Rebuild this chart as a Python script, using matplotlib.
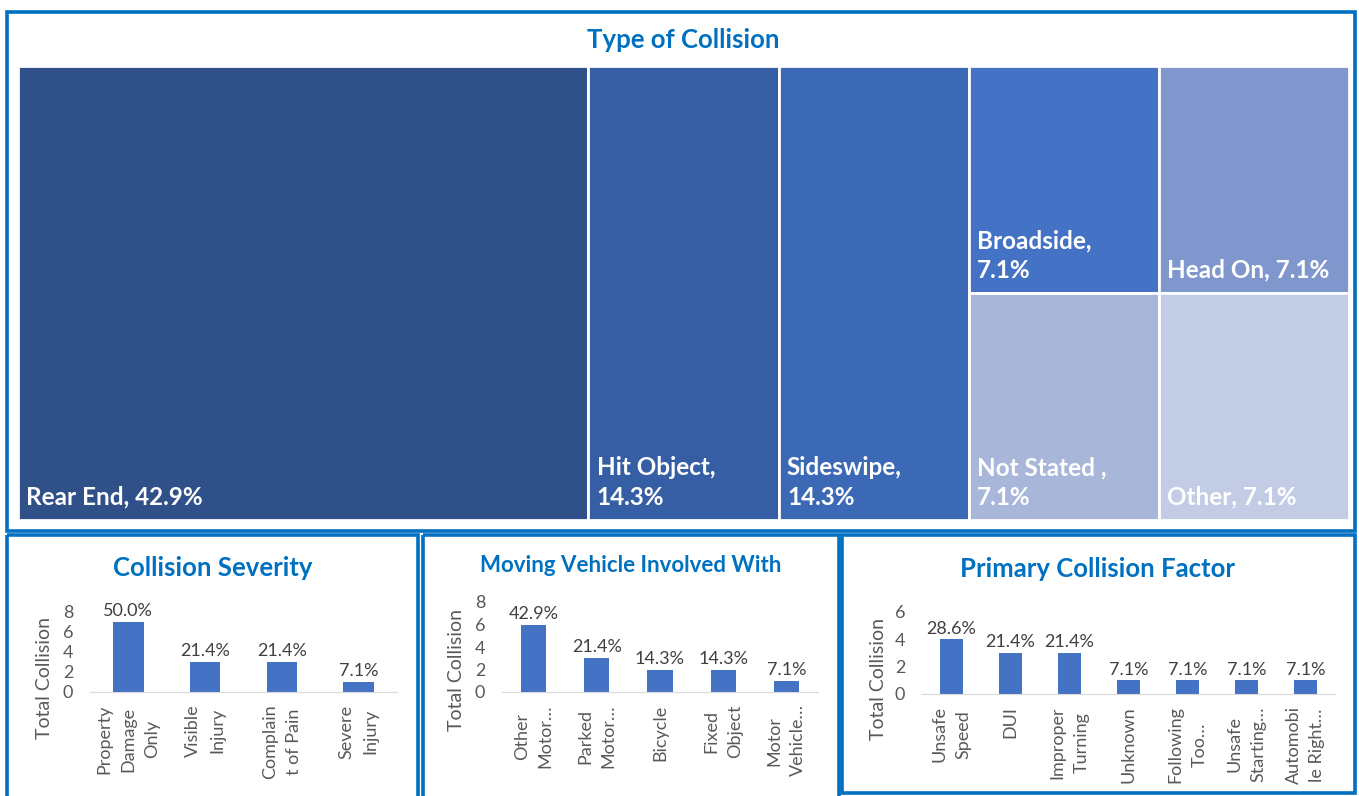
import matplotlib.pyplot as plt
from matplotlib.patches import Rectangle

W, H = 1359, 796

# Type of Collision (treemap)
collision_types = ["Rear End", "Hit Object", "Sideswipe", "Broadside", "Head On", "Not Stated ", "Other"]
collision_counts = [6, 2, 2, 1, 1, 1, 1]
collision_colors = ["#2F5089", "#365EA4", "#3C69B5", "#4472C4", "#8097CE", "#A8B6DA", "#C2CCE5"]
treemap_columns = [[0], [1], [2], [3, 5], [4, 6]]
wrap_label = [False, True, True, True, False, True, False]

# Collision Severity
severity_labels = ["Property\nDamage\nOnly", "Visible\nInjury", "Complain\nt of Pain", "Severe\nInjury"]
severity_counts = [7, 3, 3, 1]

# Moving Vehicle Involved With
vehicle_labels = ["Other\nMotor…", "Parked\nMotor…", "Bicycle", "Fixed\nObject", "Motor\nVehicle…"]
vehicle_counts = [6, 3, 2, 2, 1]

# Primary Collision Factor
factor_labels = ["Unsafe\nSpeed", "DUI", "Improper\nTurning", "Unknown", "Following\nToo…",
                 "Unsafe\nStarting…", "Automobi\nle Right…"]
factor_counts = [4, 3, 3, 1, 1, 1, 1]

plt.rcParams['font.family'] = ['Lato', 'DejaVu Sans']
BLUE = "#0070C0"
BAR = "#4472C4"
SMALL = 13

fig = plt.figure(figsize=(W / 100, H / 100), dpi=100)
fig.patch.set_facecolor("white")


def px_axes(x0, y0, x1, y1, **kw):
    return fig.add_axes([x0 / W, 1 - y1 / H, (x1 - x0) / W, (y1 - y0) / H], **kw)


# background layer for panel frames
bg = px_axes(0, 0, W, H)
bg.set_xlim(0, W)
bg.set_ylim(H, 0)
bg.axis('off')
for (x0, y0, x1, y1) in [(7, 12, 1355, 531), (7, 535, 418, 800), (423, 535, 839, 800), (842, 535, 1355, 793)]:
    bg.add_patch(Rectangle((x0, y0), x1 - x0, y1 - y0, fill=False, edgecolor=BLUE, lw=2.6))

# treemap
bg.text(683, 40, "Type of Collision", ha='center', va='center', fontsize=18.5,
        fontweight='bold', color=BLUE)
tm = px_axes(18, 66, 1349, 520)
total = sum(collision_counts)
tm.set_xlim(0, total)
tm.set_ylim(1, 0)
tm.axis('off')
x = 0
for col in treemap_columns:
    colsum = sum(collision_counts[i] for i in col)
    y = 0
    for i in col:
        h = collision_counts[i] / colsum
        tm.add_patch(Rectangle((x, y), colsum, h, facecolor=collision_colors[i],
                               edgecolor="white", lw=2))
        pct = collision_counts[i] / total * 100
        sep = "\n" if wrap_label[i] else " "
        tm.annotate(f"{collision_types[i]},{sep}{pct:.1f}%", xy=(x, y + h), xytext=(6, 8),
                    textcoords='offset points', ha='left', va='bottom', color="white",
                    fontsize=17.5, fontweight='bold', linespacing=1.35)
        y += h
    x += colsum


def bar_panel(box, title, title_xy, title_size, labels, counts, ymax, ylab_x, ylab_y):
    ax = px_axes(*box)
    n = len(counts)
    bars = ax.bar(range(n), counts, width=0.4, color=BAR, zorder=2)
    tot = sum(counts)
    ax.bar_label(bars, labels=[f"{c / tot * 100:.1f}%" for c in counts], padding=2,
                 fontsize=SMALL, color="#404040")
    ax.set_xlim(-0.5, n - 0.5)
    ax.set_ylim(0, ymax)
    ax.set_yticks(range(0, ymax + 1, 2))
    ax.set_xticks(range(n))
    ax.set_xticklabels(labels, rotation=90, fontsize=SMALL, color="#595959", linespacing=1.6)
    ax.tick_params(axis='both', length=0, labelsize=SMALL, labelcolor="#595959")
    ax.tick_params(axis='x', pad=9)
    ax.tick_params(axis='y', pad=12)
    for s in ['top', 'right', 'left']:
        ax.spines[s].set_visible(False)
    ax.spines['bottom'].set_color("#D9D9D9")
    ax.set_facecolor("none")
    bg.text(title_xy[0], title_xy[1], title, ha='center', va='center', fontsize=title_size,
            fontweight='bold', color=BLUE)
    bg.text(ylab_x, ylab_y, "Total Collision", rotation=90, ha='center', va='center',
            fontsize=14, color="#595959")
    return ax


bar_panel((90, 612, 397, 692), "Collision Severity", (213, 568), 18.5,
          severity_labels, severity_counts, 8, 45, 678)
bar_panel((502, 602, 818, 692), "Moving Vehicle Involved With", (631, 566), 16,
          vehicle_labels, vehicle_counts, 8, 457, 670)
bar_panel((922, 612, 1335, 694), "Primary Collision Factor", (1098, 569), 18.5,
          factor_labels, factor_counts, 6, 878, 679)

fig.savefig("out.png", dpi=100)
